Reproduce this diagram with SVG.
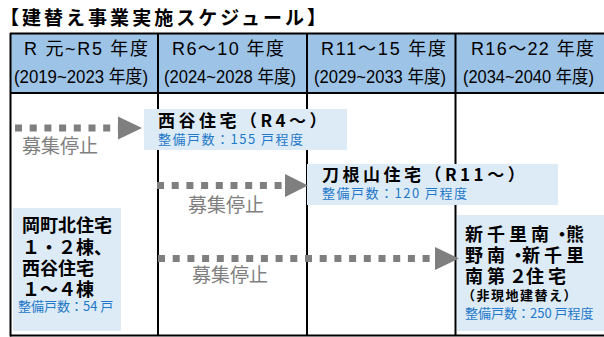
<svg xmlns="http://www.w3.org/2000/svg" width="604" height="337" viewBox="0 0 604 337">
<defs>
<style>
.grid{stroke:#000;stroke-width:2;fill:none}
.hd{font-family:"Liberation Sans","Noto Sans CJK JP",sans-serif;font-size:18px;fill:#000}
.hd2{font-family:"Liberation Sans","Noto Sans CJK JP",sans-serif;font-size:18px;fill:#000}
.box{fill:#DDEBF7}
.bt{font-family:"Noto Sans CJK JP",sans-serif;font-weight:bold;font-size:17px;fill:#000;letter-spacing:3.5px}
.bn{font-family:"Noto Sans CJK JP",sans-serif;font-weight:bold;font-size:18px;fill:#000}
.bl{font-family:"Noto Sans CJK JP",sans-serif;font-size:13px;fill:#1F78C8}
.gr{font-family:"Noto Sans CJK JP",sans-serif;font-size:19px;fill:#7F7F7F}
.dash{stroke:#7F7F7F;stroke-width:7;stroke-dasharray:7 7.7;fill:none}
.head{fill:#7F7F7F}
</style>
</defs>
<rect width="604" height="337" fill="#fff"/>
<text x="0" y="25" textLength="326" lengthAdjust="spacing" style="font-family:'Noto Sans CJK JP',sans-serif;font-weight:bold;font-size:19px;fill:#000">【建替え事業実施スケジュール】</text>
<g id="table">
<rect x="10" y="33" width="594" height="60" fill="#9DC3E6"/>
<line class="grid" x1="10" y1="33.5" x2="604" y2="33.5"/>
<line class="grid" x1="10" y1="93" x2="604" y2="93"/>
<line class="grid" x1="10" y1="335.5" x2="604" y2="335.5"/>
<line class="grid" x1="10.5" y1="33" x2="10.5" y2="336.5"/>
<line class="grid" x1="158" y1="33" x2="158" y2="336"/>
<line class="grid" x1="307" y1="33" x2="307" y2="336"/>
<line class="grid" x1="455.5" y1="33" x2="455.5" y2="336"/>
</g>
<g id="col1">
<text class="hd" x="24" y="55" textLength="124" lengthAdjust="spacing">R 元~R5 年度</text>
<text class="hd2" x="14" y="82.5" textLength="134" lengthAdjust="spacingAndGlyphs">(2019~2023 年度)</text>
</g>
<g id="col2">
<text class="hd" x="172" y="55" textLength="112" lengthAdjust="spacing">R6～10 年度</text>
<text class="hd2" x="164" y="82.5" textLength="132" lengthAdjust="spacingAndGlyphs">(2024~2028 年度)</text>
</g>
<g id="col3">
<text class="hd" x="321" y="55" textLength="125" lengthAdjust="spacing">R11～15 年度</text>
<text class="hd2" x="314" y="82.5" textLength="132" lengthAdjust="spacingAndGlyphs">(2029~2033 年度)</text>
</g>
<g id="col4">
<text class="hd" x="471" y="55" textLength="123" lengthAdjust="spacing">R16～22 年度</text>
<text class="hd2" x="463" y="82.5" textLength="131" lengthAdjust="spacingAndGlyphs">(2034~2040 年度)</text>
</g>
<g id="node-nishidani">
<rect class="box" x="144" y="109" width="203" height="41"/>
<text class="bt" x="158" y="127">西谷住宅（R4～）</text>
<text class="bl" x="158" y="144" style="letter-spacing:1.5px">整備戸数：155 戸程度</text>
</g>
<g id="node-tonesan">
<rect class="box" x="307" y="164" width="251" height="41"/>
<text class="bt" x="322" y="181">刀根山住宅（R11～）</text>
<text class="bl" x="322" y="198" style="letter-spacing:1.5px">整備戸数：120 戸程度</text>
</g>
<g id="node-okamachi">
<rect class="box" x="13" y="208" width="108" height="123"/>
<text class="bn" x="22" y="232">岡町北住宅</text>
<text class="bn" x="22" y="254">１・２棟、</text>
<text class="bn" x="22" y="275">西谷住宅</text>
<text class="bn" x="22" y="296">１～４棟</text>
<text class="bl" x="18" y="311">整備戸数：54 戸</text>
</g>
<g id="node-shinsenri">
<rect class="box" x="457" y="215" width="147" height="116"/>
<text class="bn" x="465" y="241" style="letter-spacing:4px">新千里南・<tspan dx="-9">熊</tspan></text>
<text class="bn" x="465" y="262" style="letter-spacing:4px">野南・<tspan dx="-9">新千里</tspan></text>
<text class="bn" x="465" y="283" style="letter-spacing:4px">南第２<tspan dx="-5">住宅</tspan></text>
<text x="462" y="300" style="font-family:'Noto Sans CJK JP',sans-serif;font-weight:bold;font-size:13px;fill:#000;letter-spacing:1.5px">（非現地建替え）</text>
<text class="bl" x="465" y="318">整備戸数：250 戸程度</text>
</g>
<g id="connectors">
<line class="dash" x1="15" y1="128" x2="120" y2="128"/>
<polygon class="head" points="118,116.5 142,128 118,139.5"/>
<text class="gr" x="22" y="153">募集停止</text>
<line class="dash" x1="157" y1="185.5" x2="287" y2="185.5"/>
<polygon class="head" points="285,174 308,185.5 285,197"/>
<text class="gr" x="188" y="212">募集停止</text>
<line class="dash" x1="158" y1="258.5" x2="437" y2="258.5"/>
<polygon class="head" points="435,247 459,258.5 435,270"/>
<text class="gr" x="192" y="282">募集停止</text>
</g>
</svg>
